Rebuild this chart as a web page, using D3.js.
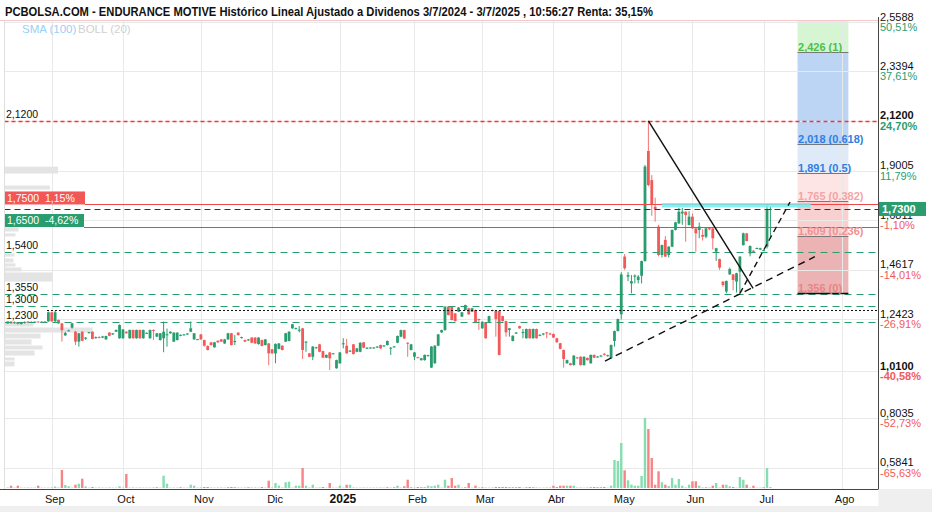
<!DOCTYPE html>
<html><head><meta charset="utf-8">
<script src="https://cdn.jsdelivr.net/npm/d3@7"></script>
<style>
body{margin:0;background:#fff}
svg{display:block}
text{font-family:"Liberation Sans",Arial,sans-serif}
</style>
</head><body>
<svg id="c" width="932" height="512"></svg>
<script>
// ---------------- DATA ----------------
const titleText = "PCBOLSA.COM - ENDURANCE MOTIVE Histórico Lineal Ajustado a Dividenos 3/7/2024 - 3/7/2025 , 10:56:27 Renta: 35,15%";
const startDate = "2024-08-14";
const endDate = "2025-08-29";
const holidays = ["2024-12-25","2024-12-26","2025-01-01","2025-04-18","2025-04-21","2025-05-01"];

const open = [
1.235,1.232,1.224,1.226,1.220,1.225,1.232,1.226,1.228,1.232,
1.229,1.229,1.232,1.272,1.232,1.238,1.223,1.170,1.190,1.204,
1.186,1.142,1.186,1.155,1.181,1.186,1.160,1.162,1.160,1.152,
1.182,1.174,1.186,1.157,1.157,1.186,1.157,1.194,1.157,1.194,
1.157,1.180,1.157,1.194,1.164,1.149,1.157,1.170,1.179,1.142,
1.149,1.170,1.172,1.175,1.186,1.152,1.152,1.174,1.149,1.123,
1.139,1.117,1.146,1.152,1.134,1.152,1.179,1.140,1.182,1.160,
1.149,1.150,1.160,1.160,1.131,1.149,1.127,1.134,1.108,1.090,
1.110,1.124,1.142,1.145,1.201,1.200,1.190,1.201,1.139,1.090,
1.075,1.113,1.130,1.100,1.071,1.094,1.088,1.024,1.046,1.130,
1.124,1.100,1.130,1.097,1.097,1.139,1.112,1.114,1.115,1.118,
1.127,1.122,1.127,1.113,1.118,1.137,1.164,1.193,1.137,1.105,
1.075,1.073,1.060,1.060,1.080,1.027,1.046,1.124,1.183,1.193,
1.297,1.297,1.267,1.275,1.253,1.282,1.290,1.275,1.282,1.242,
1.201,1.227,1.230,1.282,1.278,1.278,1.255,1.233,1.194,1.145,
1.180,1.211,1.180,1.157,1.198,1.157,1.198,1.170,1.175,1.183,
1.178,1.176,1.157,1.135,1.105,1.046,1.046,1.038,1.072,1.075,
1.038,1.070,1.046,1.083,1.074,1.078,1.088,1.080,1.068,1.145,
1.189,1.263,1.519,1.430,1.400,1.430,1.415,1.434,1.499,1.987,
1.858,1.740,1.652,1.526,1.593,1.526,1.563,1.637,1.666,1.710,
1.718,1.659,1.696,1.644,1.637,1.615,1.607,1.645,1.644,1.541,
1.508,1.408,1.364,1.440,1.440,1.408,1.452,1.570,1.622,1.533,
1.545,1.555,1.550,1.545,1.563,1.730];

const high = [
1.238,1.235,1.232,1.230,1.230,1.232,1.234,1.232,1.233,1.234,
1.233,1.235,1.275,1.275,1.278,1.240,1.225,1.186,1.195,1.225,
1.190,1.180,1.188,1.162,1.185,1.188,1.165,1.166,1.168,1.168,
1.184,1.180,1.195,1.218,1.198,1.188,1.195,1.195,1.195,1.195,
1.195,1.183,1.195,1.196,1.180,1.180,1.231,1.200,1.188,1.183,
1.183,1.174,1.176,1.180,1.231,1.180,1.154,1.176,1.151,1.125,
1.141,1.141,1.148,1.154,1.154,1.181,1.181,1.171,1.184,1.164,
1.151,1.154,1.162,1.162,1.162,1.151,1.154,1.136,1.110,1.134,
1.136,1.126,1.181,1.188,1.221,1.204,1.211,1.203,1.144,1.092,
1.122,1.119,1.132,1.102,1.085,1.096,1.092,1.062,1.096,1.157,
1.154,1.105,1.132,1.114,1.139,1.141,1.117,1.117,1.118,1.122,
1.129,1.127,1.147,1.118,1.123,1.169,1.195,1.195,1.139,1.132,
1.096,1.075,1.070,1.085,1.084,1.122,1.126,1.176,1.195,1.299,
1.300,1.299,1.269,1.295,1.274,1.306,1.292,1.292,1.284,1.244,
1.232,1.229,1.257,1.284,1.280,1.280,1.257,1.235,1.203,1.170,
1.185,1.213,1.198,1.200,1.200,1.200,1.200,1.175,1.180,1.185,
1.182,1.178,1.159,1.137,1.107,1.062,1.048,1.082,1.075,1.077,
1.077,1.072,1.085,1.085,1.078,1.083,1.092,1.084,1.129,1.191,
1.244,1.450,1.530,1.450,1.437,1.440,1.437,1.501,1.925,2.120,
1.880,1.780,1.660,1.572,1.610,1.565,1.639,1.673,1.735,1.735,
1.720,1.720,1.710,1.646,1.670,1.640,1.650,1.648,1.646,1.558,
1.510,1.410,1.413,1.470,1.442,1.447,1.521,1.625,1.624,1.568,
1.548,1.559,1.558,1.550,1.750,1.740];

const low = [
1.220,1.220,1.222,1.218,1.218,1.222,1.224,1.224,1.226,1.226,
1.228,1.228,1.230,1.230,1.230,1.220,1.142,1.167,1.188,1.200,
1.127,1.120,1.144,1.150,1.178,1.152,1.155,1.158,1.158,1.150,
1.166,1.172,1.185,1.155,1.155,1.178,1.155,1.155,1.155,1.155,
1.155,1.176,1.155,1.149,1.162,1.147,1.095,1.120,1.177,1.140,
1.147,1.166,1.170,1.172,1.184,1.150,1.150,1.150,1.120,1.103,
1.125,1.115,1.137,1.140,1.132,1.150,1.125,1.127,1.169,1.156,
1.140,1.146,1.135,1.132,1.129,1.121,1.125,1.038,1.088,1.046,
1.108,1.103,1.140,1.143,1.199,1.196,1.183,1.065,1.097,1.073,
1.060,1.111,1.095,1.069,1.069,1.016,1.086,1.022,1.044,1.112,
1.088,1.096,1.085,1.095,1.095,1.113,1.110,1.112,1.112,1.115,
1.110,1.120,1.125,1.083,1.116,1.135,1.162,1.154,1.075,1.103,
1.060,1.069,1.058,1.058,1.076,1.025,1.044,1.122,1.181,1.191,
1.258,1.236,1.231,1.273,1.251,1.280,1.261,1.273,1.225,1.194,
1.199,1.155,1.228,1.276,1.164,1.081,1.231,1.164,1.164,1.143,
1.176,1.199,1.157,1.155,1.155,1.155,1.155,1.166,1.170,1.157,
1.172,1.158,1.137,1.108,1.027,1.044,1.036,1.036,1.066,1.036,
1.036,1.058,1.044,1.069,1.072,1.076,1.080,1.076,1.066,1.120,
1.187,1.240,1.460,1.410,1.356,1.400,1.400,1.400,1.497,1.830,
1.700,1.674,1.520,1.515,1.517,1.515,1.561,1.635,1.664,1.660,
1.585,1.657,1.642,1.541,1.600,1.590,1.600,1.636,1.550,1.500,
1.460,1.385,1.356,1.438,1.370,1.360,1.360,1.568,1.586,1.520,
1.538,1.553,1.548,1.543,1.555,1.600];

const close = [
1.222,1.224,1.228,1.220,1.228,1.230,1.226,1.230,1.231,1.228,
1.231,1.232,1.272,1.232,1.272,1.223,1.193,1.180,1.192,1.223,
1.142,1.179,1.146,1.160,1.184,1.154,1.162,1.160,1.165,1.167,
1.168,1.179,1.194,1.216,1.196,1.179,1.194,1.157,1.194,1.157,
1.194,1.181,1.194,1.190,1.179,1.179,1.186,1.175,1.186,1.182,
1.182,1.172,1.174,1.178,1.201,1.179,1.153,1.152,1.124,1.105,
1.127,1.139,1.139,1.142,1.152,1.179,1.127,1.145,1.171,1.162,
1.142,1.152,1.137,1.134,1.160,1.123,1.152,1.090,1.090,1.132,
1.134,1.105,1.179,1.186,1.219,1.202,1.195,1.105,1.142,1.075,
1.120,1.117,1.097,1.071,1.083,1.068,1.090,1.060,1.094,1.135,
1.090,1.102,1.087,1.112,1.137,1.115,1.115,1.116,1.116,1.120,
1.112,1.125,1.145,1.115,1.121,1.167,1.193,1.156,1.134,1.130,
1.094,1.071,1.068,1.083,1.082,1.120,1.124,1.174,1.193,1.297,
1.260,1.238,1.233,1.293,1.272,1.304,1.263,1.290,1.227,1.238,
1.230,1.157,1.255,1.278,1.242,1.083,1.233,1.183,1.201,1.168,
1.182,1.201,1.185,1.198,1.157,1.198,1.157,1.172,1.178,1.180,
1.176,1.160,1.139,1.110,1.065,1.060,1.038,1.080,1.070,1.038,
1.075,1.060,1.083,1.071,1.076,1.080,1.086,1.082,1.127,1.189,
1.242,1.440,1.467,1.437,1.410,1.435,1.430,1.499,1.918,1.836,
1.748,1.730,1.526,1.570,1.519,1.563,1.637,1.671,1.718,1.718,
1.703,1.696,1.644,1.622,1.652,1.607,1.644,1.640,1.600,1.556,
1.470,1.393,1.411,1.464,1.415,1.445,1.519,1.622,1.588,1.566,
1.540,1.557,1.556,1.548,1.730,1.730];

// volume (thousands of shares, estimated)
const volume = [
0.4,2.3,0.4,2.3,0.4,0.4,0.4,0.4,0.4,2.3,
0.4,0.4,0.4,0.4,1.5,0.4,18,3,1.7,0.4,
3.3,4.3,9.3,1.7,0.4,1,0.4,0.4,0.4,0.4,
0.4,0.4,0.4,1.7,0.4,14,0.4,0.4,0.4,0.4,
0.4,0.4,0.4,0.4,1,0.4,12.3,4.3,0.4,0.4,
0.4,1,0.4,0.4,3.3,2.3,0.4,0.4,1,1,
0.4,0.4,0.4,0.4,0.4,1,1,1,0.4,0.4,
0.4,1,0.4,0.4,0.4,1,0.4,7.3,0.4,5,
2.3,0.4,5.7,6.3,0.4,2.3,2.3,20,2.3,0.4,
3.3,0.4,0.4,1,0.4,5,0.4,0.4,2.3,0.4,
3.3,3.3,0.4,0.4,0.4,0.4,0.4,0.4,0.4,0.4,
0.4,0.4,1,0.4,1,2.3,0.4,1.7,8.3,1,
0.4,1,1,1,2.3,1.7,2.3,3.3,0.4,8.3,
2.3,10,2.3,3.3,0.4,1,5,0.4,2.3,0.4,
1,0.4,0.4,0.4,1,1,1,1,1,1,
1,1,0.4,1,1,1,0.4,0.4,0.4,0.4,
0.4,2.3,1,2.3,2.3,2.3,2.3,2.3,0.4,0.4,
0.4,0.4,1,1,1,1,1,0.4,2.3,28,
27,45,17.7,7.7,3.3,2.3,2.3,12,70,59,
30,3.3,16.7,5.7,3.3,2,10,3.3,9,2.3,
0.4,3.3,6.7,6.7,2.3,0.4,1,0.4,2.3,5,
0.4,3.3,3.3,1.7,1,0.4,11,8.3,3.3,0.4,
2.3,0.4,0.4,1,20,1];

const monthKeys = ["2024-09","2024-10","2024-11","2024-12","2025-01","2025-02","2025-03","2025-04","2025-05","2025-06","2025-07","2025-08"];
const monthLabels = ["Sep","Oct","Nov","Dic","2025","Feb","Mar","Abr","May","Jun","Jul","Ago"];

const yTicks = [2.5588,2.3394,2.12,1.9005,1.6811,1.4617,1.2423,1.01,0.8035,0.5841];
const yTickLabels = ["2,5588","2,3394","2,1200","1,9005","1,6811","1,4617","1,2423","1,0100","0,8035","0,5841"];
const yTickPct = ["50,51%","37,61%","24,70%","11,79%","-1,10%","-14,01%","-26,91%","-40,58%","-52,73%","-65,63%"];
const boldTicks = ["2,1200","1,0100"];

const lastPrice = 1.73;
const lastLabel = "1,7300";

// horizontal level lines
const levelPrices = [2.12, 1.75, 1.73, 1.65, 1.54, 1.355, 1.30, 1.282, 1.23];
const levelTypes  = ["maxRed","alertRed","last","alertGreen","green","green","green","dotted","green"];
const leftTextPrices = [2.12, 1.54, 1.355, 1.30];
const leftTextLabels = ["2,1200","1,5400","1,3550","1,3000"];
const boxedWhitePrice = 1.23, boxedWhiteLabel = "1,2300";
const alertBoxes = [{price:1.75, label:"1,7500  1,15%", type:"red"},{price:1.65, label:"1,6500  -4,62%", type:"green"}];

// volume profile (price range, volume)
const vpLow  = [1.885,1.814,1.628,1.606,1.517,1.491,1.473,1.451,1.406,1.207,1.180,1.154,1.127,1.105,1.078,1.056,1.030];
const vpHigh = [1.920,1.836,1.650,1.624,1.535,1.513,1.491,1.473,1.451,1.229,1.207,1.180,1.154,1.127,1.105,1.074,1.056];
const vpVol  = [53,45,13.5,10.5,9.5,8.5,10.5,16.5,47.5,28.5,87.5,35.5,26.5,37.5,29.5,9.5,9.5];

// Fibonacci retracement
const fibRatios = ["1","0.618","0.5","0.382","0.236","0"];
const fibPrices = [2.426,2.018,1.891,1.765,1.609,1.356];
const fibTopPrice = 2.567;
const fibStartIdx = 233, fibEndIdx = 248;

// drawn annotations: [index, price]
const cyanLine = [[192.9,1.746],[236.9,1.746]];
const downTrend = [[189,2.12],[219.9,1.378]];
const upTrendLong = [[176.2,1.056],[238.1,1.5185]];
const upTrendSteep = [[216.0,1.356],[230.8,1.761]];

// ---------------- BUILD ----------------
function tradingDays(s,e,hol){
  const out=[]; let d=new Date(s+"T12:00:00Z"); const end=new Date(e+"T12:00:00Z");
  while(d<=end){const wd=d.getUTCDay(); const k=d.toISOString().slice(0,10);
    if(wd!==0&&wd!==6&&!hol.includes(k)) out.push(k); d=new Date(d.getTime()+86400000);}
  return out;
}
const dates = tradingDays(startDate,endDate,holidays);
const n = Math.min(open.length,high.length,low.length,close.length);
const candles = d3.range(n).map(i=>({i,date:dates[i],o:open[i],h:high[i],l:low[i],c:close[i],v:volume[i]||0}));

const svg = d3.select("#c");
const plotL=4.5, plotR=878.5, plotT=20.5, plotB=489;
const x = d3.scaleLinear().domain([0,250]).range([7.67, 7.67+3.39*250]);
const y = d3.scaleLinear().domain([0.5841,2.5588]).range([467.5,22]);
const volH = d3.scaleLinear().domain([0,70]).range([0,70]);
const vpW = d3.scaleLinear().domain([0,87.5]).range([0,87.5]);
const fmt3 = v=>d3.format(".3f")(v).replace(".",",");

const UP="#2a9d6f", DOWN="#f25a5a";
const GRID="#e9e9e9";

svg.append("rect").attr("width",932).attr("height",512).attr("fill","#fff");
svg.append("defs").append("clipPath").attr("id","plot").append("rect")
  .attr("x",plotL).attr("y",plotT).attr("width",plotR-plotL).attr("height",plotB-plotT);

const g = svg.append("g").attr("clip-path","url(#plot)");

// fib bands
const fibBounds = [fibTopPrice].concat(fibPrices);
const fibFills = ["#d6f5d2","#bdd5f5","#dfeaf8","#fde5e5","#f9d0d0","#ebb3b3"];
const fx0 = x(fibStartIdx), fx1 = x(fibEndIdx);
for(let k=0;k<fibFills.length;k++){
  g.append("rect").attr("x",fx0).attr("width",fx1-fx0)
   .attr("y",y(fibBounds[k])).attr("height",y(fibBounds[k+1])-y(fibBounds[k]))
   .attr("fill",fibFills[k]);
}

// grid
const monthIdx = monthKeys.map(m=>dates.findIndex(d=>d.startsWith(m)));
g.selectAll(".hg").data(yTicks).join("line")
  .attr("x1",plotL).attr("x2",plotR).attr("y1",d=>Math.round(y(d))+0.5).attr("y2",d=>Math.round(y(d))+0.5)
  .attr("stroke",GRID).attr("stroke-width",1);
g.selectAll(".vg").data(monthIdx).join("line")
  .attr("x1",d=>Math.round(x(d))+0.5).attr("x2",d=>Math.round(x(d))+0.5).attr("y1",plotT).attr("y2",plotB)
  .attr("stroke",GRID).attr("stroke-width",1);

// volume profile
g.selectAll(".vp").data(d3.range(vpVol.length)).join("rect")
  .attr("x",plotL+0.5).attr("y",k=>y(vpHigh[k])+0.5).attr("width",k=>vpW(vpVol[k]))
  .attr("height",k=>Math.max(1,y(vpLow[k])-y(vpHigh[k])-1)).attr("fill","#e4e4e4");

// volume bars
const volBase = 488;
g.selectAll(".vol").data(candles).join("rect")
  .attr("x",d=>x(d.i)-1.2).attr("width",2.4)
  .attr("y",d=>volBase-volH(d.v)).attr("height",d=>volH(d.v))
  .attr("fill",d=>d.c>=d.o?"#86ddb0":"#f78585");

// candles
const cg = g.append("g");
cg.selectAll(".wick").data(candles).join("line")
  .attr("x1",d=>x(d.i)).attr("x2",d=>x(d.i))
  .attr("y1",d=>y(Math.max(d.h,d.o,d.c))).attr("y2",d=>y(Math.min(d.l,d.o,d.c)))
  .attr("stroke",d=>d.c>=d.o?UP:"#f47272").attr("stroke-width",1);
cg.selectAll(".body").data(candles).join("rect")
  .attr("x",d=>x(d.i)-1.4).attr("width",2.8)
  .attr("y",d=>y(Math.max(d.o,d.c)))
  .attr("height",d=>Math.max(1,Math.abs(y(d.o)-y(d.c))))
  .attr("fill",d=>d.c>=d.o?UP:DOWN);

// level lines
const levelStyle = {
  maxRed:{stroke:"#ff3030",dash:"4,3",x0:plotL,w:1.3},
  alertRed:{stroke:"#f04848",dash:null,x0:85,w:1},
  last:{stroke:"#1e1ed0",dash:"6,4",x0:plotL,w:1.2},
  alertGreen:{stroke:UP,dash:null,x0:84,w:1},
  green:{stroke:UP,dash:"7,5",x0:plotL,w:1.2},
  dotted:{stroke:"#111",dash:"2,2",x0:47,w:1.2}
};
levelPrices.forEach((p,k)=>{
  const s=levelStyle[levelTypes[k]];
  const yy=Math.round(y(p))+0.5;
  g.append("line").attr("x1",s.x0).attr("x2",plotR).attr("y1",yy).attr("y2",yy)
   .attr("stroke",s.stroke).attr("stroke-width",s.w).attr("stroke-dasharray",s.dash);
});

// cyan line
const lineGen = d3.line().x(d=>x(d[0])).y(d=>y(d[1]));
g.append("path").attr("d",lineGen(cyanLine)).attr("stroke","#70eef2").attr("stroke-width",4.5)
 .attr("fill","none").attr("opacity",0.85);

// trend lines
g.append("path").attr("d",lineGen(downTrend)).attr("stroke","#111").attr("stroke-width",1.4).attr("fill","none");
g.append("path").attr("d",lineGen(upTrendLong)).attr("stroke","#111").attr("stroke-width",1.4)
 .attr("stroke-dasharray","7,5").attr("fill","none");
g.append("path").attr("d",lineGen(upTrendSteep)).attr("stroke","#111").attr("stroke-width",1.4)
 .attr("stroke-dasharray","6,4").attr("fill","none");

// fib lines and labels
const fibLineCol = ["#777","#777","#777","#777","#777","#111"];
const fibTextCol = ["#4cbf4c","#2f7fe0","#2f7fe0","#f4a4a4","#f29090","#e88585"];
fibPrices.forEach((p,k)=>{
  const yy=Math.round(y(p))+0.5;
  svg.append("line").attr("x1",fx0).attr("x2",fx1).attr("y1",yy).attr("y2",yy)
    .attr("stroke",fibLineCol[k]).attr("stroke-width",k===5?1.5:1);
  svg.append("text").attr("x",fx0+0.5).attr("y",yy-2).attr("font-size",11).attr("font-weight","bold")
    .attr("fill",fibTextCol[k]).text(fmt3(p)+" ("+fibRatios[k]+")");
});

// left labels
leftTextPrices.forEach((p,k)=>{
  svg.append("text").attr("x",6).attr("y",y(p)-2.5).attr("font-size",10.5).attr("fill","#111").text(leftTextLabels[k]);
});
{
  const yy=y(boxedWhitePrice);
  svg.append("rect").attr("x",5).attr("y",yy-11).attr("width",42).attr("height",10.5).attr("fill","#fff");
  svg.append("text").attr("x",6).attr("y",yy-2.5).attr("font-size",10.5).attr("fill","#111").text(boxedWhiteLabel);
}
alertBoxes.forEach(b=>{
  const yy=y(b.price);
  svg.append("rect").attr("x",5).attr("y",yy-13).attr("width",b.type==="red"?80:79).attr("height",13)
    .attr("fill",b.type==="red"?"#f25656":UP);
  svg.append("text").attr("x",7).attr("y",yy-2.6).attr("font-size",10.5).attr("fill","#fff")
    .style("white-space","pre").text(b.label);
});

// frame
svg.append("line").attr("x1",0).attr("x2",plotR).attr("y1",20.5).attr("y2",20.5).attr("stroke","#f3c8c8");
svg.append("line").attr("x1",plotL).attr("x2",plotL).attr("y1",plotT).attr("y2",plotB).attr("stroke","#dedede");
svg.append("rect").attr("x",plotR).attr("y",plotB).attr("width",932-plotR).attr("height",512-plotB).attr("fill","#efefef");
svg.append("rect").attr("x",0).attr("y",506).attr("width",932).attr("height",6).attr("fill","#efefef");
svg.append("line").attr("x1",0).attr("x2",plotR).attr("y1",plotB+0.5).attr("y2",plotB+0.5).attr("stroke","#444");
svg.append("line").attr("x1",plotR).attr("x2",plotR).attr("y1",17).attr("y2",plotB).attr("stroke","#444");

// right axis labels
yTicks.forEach((t,k)=>{
  const yy=y(t); const b=boldTicks.includes(yTickLabels[k]);
  svg.append("text").attr("x",880).attr("y",yy-1.5).attr("font-size",11).attr("fill","#111")
    .attr("font-weight",b?"bold":"normal").text(yTickLabels[k]);
  svg.append("text").attr("x",880).attr("y",yy+9).attr("font-size",11)
    .attr("font-weight",b?"bold":"normal")
    .attr("fill",yTickPct[k].startsWith("-")?"#f25a5a":UP).text(yTickPct[k]);
});
{
  const yy=y(lastPrice);
  svg.append("rect").attr("x",879).attr("y",yy-7).attr("width",47).attr("height",14).attr("fill",UP);
  svg.append("text").attr("x",882).attr("y",yy+4).attr("font-size",11).attr("font-weight","bold")
    .attr("fill","#fff").text(lastLabel);
}

// x axis labels
monthIdx.forEach((mi,k)=>{
  const is=monthLabels[k]==="2025";
  svg.append("text").attr("x",x(mi)+3).attr("y",503).attr("text-anchor","middle")
    .attr("font-size",is?12:11).attr("font-weight",is?"bold":"normal").attr("fill","#111").text(monthLabels[k]);
});

// title & legend
svg.append("text").attr("x",5).attr("y",16).attr("font-size",12.5).attr("font-weight","bold")
  .attr("fill","#111").attr("textLength",648).attr("lengthAdjust","spacingAndGlyphs").text(titleText);
svg.append("text").attr("x",22).attr("y",32.5).attr("font-size",11.5)
  .attr("fill","#98d0f6").text("SMA (100)");
svg.append("text").attr("x",78).attr("y",32.5).attr("font-size",11.5)
  .attr("fill","#d0d0d0").text("BOLL (20)");
</script>
</body></html>
